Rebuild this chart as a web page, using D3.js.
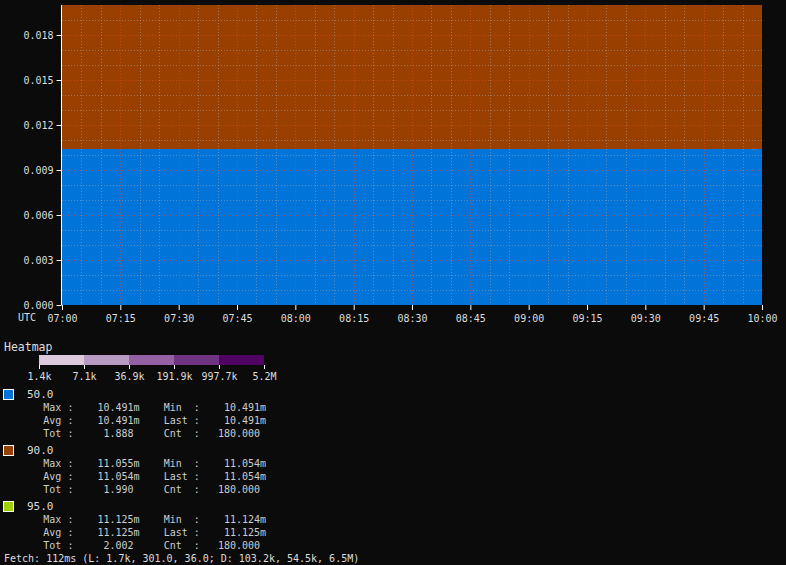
<!DOCTYPE html>
<html><head><meta charset="utf-8">
<script src="https://cdn.jsdelivr.net/npm/d3@7"></script>
<style>
html,body{margin:0;padding:0;background:#0b0b0b;}
svg{display:block;}
text{font-family:"DejaVu Sans Mono",monospace;white-space:pre;}
</style></head>
<body>
<svg id="c" width="786" height="565"></svg>
<script>
// ---- data ----
const timeStart = "2024-01-01T07:00:00Z";
const timeEnd = "2024-01-01T10:00:00Z";
const yDomain = [0, 0.02];
const yTicks = [0, 0.003, 0.006, 0.009, 0.012, 0.015, 0.018];
// heatmap value buckets (lower, upper, series index)
const bucketLo = [0, 0.0104];
const bucketHi = [0.0104, 0.02];
const bucketSeries = [0, 1];
const seriesNames = ["50.0", "90.0", "95.0"];
const seriesColors = ["#0074d9", "#993f00", "#a0d000"];
const statMax = ["10.491m", "11.055m", "11.125m"];
const statMin = ["10.491m", "11.054m", "11.124m"];
const statAvg = ["10.491m", "11.054m", "11.125m"];
const statLast = ["10.491m", "11.054m", "11.125m"];
const statTot = ["1.888", "1.990", "2.002"];
const statCnt = ["180.000", "180.000", "180.000"];
const heatLabels = ["1.4k", "7.1k", "36.9k", "191.9k", "997.7k", "5.2M"];
const heatColors = ["#dccadc", "#b99ac3", "#9462a4", "#713482", "#500461"];
const fetchText = "Fetch: 112ms (L: 1.7k, 301.0, 36.0; D: 103.2k, 54.5k, 6.5M)";

// ---- layout ----
const svg = d3.select("#c");
const L = 62, R = 762, T = 5, B = 305;
const x = d3.scaleUtc().domain([new Date(timeStart), new Date(timeEnd)]).range([L, R]);
const y = d3.scaleLinear().domain(yDomain).range([B, T]);

// heatmap bands
svg.append("g").selectAll("rect").data(bucketLo.map((lo, i) => ({lo, hi: bucketHi[i], s: bucketSeries[i]})))
  .join("rect")
  .attr("x", x.range()[0]).attr("width", x.range()[1] - x.range()[0])
  .attr("y", d => y(d.hi)).attr("height", d => y(d.lo) - y(d.hi))
  .attr("fill", d => seriesColors[d.s]).attr("shape-rendering", "crispEdges");

// grid
const grid = svg.append("g");
const MAJOR = "rgba(225,70,45,0.65)", MINOR = "rgba(170,170,170,0.5)";
const minorY = d3.range(1, 20).map(k => k * 0.001);
const isMajorY = v => yTicks.some(t => Math.abs(t - v) < 1e-9);
grid.selectAll(".gy").data(minorY).join("line")
  .attr("x1", L).attr("x2", R)
  .attr("y1", d => Math.round(y(d)) + 0.5).attr("y2", d => Math.round(y(d)) + 0.5)
  .attr("stroke", d => isMajorY(d) ? MAJOR : MINOR)
  .attr("stroke-dasharray", "1,2");
const minorX = d3.utcMinute.every(5).range(new Date(timeStart), new Date(timeEnd)).slice(1);
grid.selectAll(".gx").data(minorX).join("line")
  .attr("y1", T).attr("y2", B)
  .attr("x1", d => Math.round(x(d)) + 0.5).attr("x2", d => Math.round(x(d)) + 0.5)
  .attr("stroke", d => d.getUTCMinutes() % 15 === 0 ? MAJOR : MINOR)
  .attr("stroke-dasharray", "1,2");

// y axis
const yAxis = svg.append("g").attr("transform", `translate(${L - 0.5},0)`)
  .call(d3.axisLeft(y).tickValues(yTicks).tickFormat(d3.format(".3f")).tickSize(5).tickPadding(3));
yAxis.select(".domain").attr("stroke", "#fff").attr("d", `M0,${T}V${B}`);
yAxis.selectAll(".tick line").attr("stroke", "#fff");
yAxis.selectAll(".tick text").attr("fill", "#ddd").style("font-size", "10px").style("font-family", "DejaVu Sans Mono");

// x axis
const xAxis = svg.append("g").attr("transform", `translate(0,${B})`)
  .call(d3.axisBottom(x).ticks(d3.utcMinute.every(15)).tickFormat(d3.utcFormat("%H:%M")).tickSize(5).tickPadding(5));
xAxis.select(".domain").remove();
xAxis.selectAll(".tick line").attr("stroke", "#fff");
xAxis.selectAll(".tick text").attr("fill", "#ddd").style("font-size", "10px").style("font-family", "DejaVu Sans Mono");
svg.append("text").attr("x", 27).attr("y", 320.5).attr("text-anchor", "middle")
  .attr("fill", "#ddd").style("font-size", "10px").text("UTC");

// heatmap legend
svg.append("text").attr("x", 4).attr("y", 351).attr("fill", "#ddd").style("font-size", "11.5px").text("Heatmap");
const hx = d3.scaleLinear().domain([0, heatColors.length]).range([39, 264]);
svg.append("g").selectAll("rect").data(heatColors).join("rect")
  .attr("x", (d, i) => hx(i)).attr("width", (d, i) => hx(i + 1) - hx(i))
  .attr("y", 355).attr("height", 10).attr("fill", d => d).attr("shape-rendering", "crispEdges");
const hax = svg.append("g").attr("transform", "translate(0,365)")
  .call(d3.axisBottom(hx).tickValues(d3.range(heatLabels.length)).tickFormat(i => heatLabels[i]).tickSize(4).tickPadding(4));
hax.select(".domain").remove();
hax.selectAll(".tick line").attr("stroke", "#fff");
hax.selectAll(".tick text").attr("fill", "#ddd").style("font-size", "10px").style("font-family", "DejaVu Sans Mono");

// series legend
const num = v => v.endsWith("m") ? v.slice(0, -1) : v;
const unit = v => v.endsWith("m") ? "m" : " ";
const fld = v => num(v).padStart(10, " ") + unit(v);
const lg = svg.append("g").selectAll("g").data(seriesNames).join("g")
  .attr("transform", (d, i) => `translate(0,${i * 56})`);
lg.append("rect").attr("x", 3.5).attr("y", 389.5).attr("width", 10).attr("height", 10)
  .attr("fill", (d, i) => seriesColors[i]).attr("stroke", "#fff").attr("stroke-width", 1);
lg.append("text").attr("x", 27).attr("y", 398).attr("fill", "#ddd").style("font-size", "11px").text(d => d);
const rows = [
  i => "Max :" + fld(statMax[i]) + "    Min  :" + fld(statMin[i]),
  i => "Avg :" + fld(statAvg[i]) + "    Last :" + fld(statLast[i]),
  i => "Tot :" + fld(statTot[i]) + "    Cnt  :" + fld(statCnt[i])
];
rows.forEach((f, r) => {
  lg.append("text").attr("x", 43.3).attr("y", 410.5 + r * 13.3).attr("fill", "#ccc")
    .style("font-size", "10px").text((d, i) => f(i));
});
svg.append("text").attr("x", 4).attr("y", 561.5).attr("fill", "#ddd").style("font-size", "10px").text(fetchText);
</script>
</body></html>
